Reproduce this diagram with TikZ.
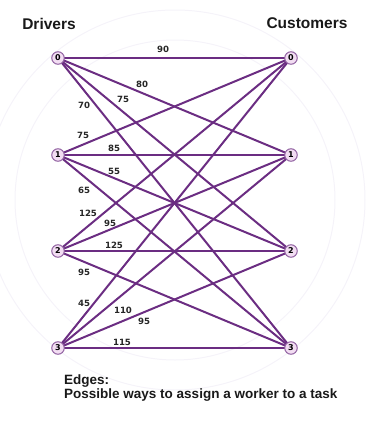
\documentclass[tikz,border=0pt]{standalone}
\usepackage{fontspec}
\setmainfont{Liberation Sans}
\newfontfamily\labfont{DejaVu Sans}
\definecolor{edgepurple}{HTML}{6B2D82}
\definecolor{nodefill}{HTML}{F2DDF2}
\definecolor{faint}{HTML}{F5F3F9}
\begin{document}
\begin{tikzpicture}[x=1pt,y=-1pt,
  vert/.style={circle,draw=edgepurple!75,line width=1pt,fill=nodefill,inner sep=0pt,minimum size=12.5pt,font=\labfont\bfseries\fontsize{8}{8}\selectfont},
  edge/.style={draw=edgepurple,line width=2pt},
  lab/.style={font=\labfont\bfseries\fontsize{8.6}{9}\selectfont,text=black!85,inner sep=0pt},
  title/.style={font=\bfseries\fontsize{15.5}{16}\selectfont,text=black!90,inner sep=0pt},
  note/.style={font=\bfseries\fontsize{13.5}{14}\selectfont,text=black!90,inner sep=0pt,anchor=west}]
\useasboundingbox (0,0) rectangle (368,421);
% faint background decoration
\draw[faint,line width=1pt] (175,200) circle (190);
\draw[faint,line width=1pt] (175,200) circle (160);
% node positions
\foreach \i/\y in {0/58,1/155,2/251,3/348}{
  \coordinate (lc\i) at (58,\y);
  \coordinate (rc\i) at (291,\y);
}
% edges
\foreach \i in {0,1,2,3}{
  \foreach \j in {0,1,2,3}{
    \draw[edge] (lc\i) -- (rc\j);
  }
}
\foreach \i/\y in {0/58,1/155,2/251,3/348}{
  \node[vert] (l\i) at (58,\y) {\i};
  \node[vert] (r\i) at (291,\y) {\i};
}
% labels
\node[lab] (a00) at (163,49) {90};
\node[lab] (a01) at (142,84) {80};
\node[lab] (a02) at (123,99) {75};
\node[lab] (a03) at (84,105) {70};
\node[lab] (a10) at (83,135) {75};
\node[lab] (a11) at (114,148) {85};
\node[lab] (a12) at (114,171) {55};
\node[lab] (a13) at (84,190) {65};
\node[lab] (a20) at (88,213) {125};
\node[lab] (a21) at (110,223) {95};
\node[lab] (a22) at (114,245) {125};
\node[lab] (a23) at (84,272) {95};
\node[lab] (a30) at (84,303) {45};
\node[lab] (a31) at (123,310) {110};
\node[lab] (a32) at (144,321) {95};
\node[lab] (a33) at (122,342) {115};
% titles
\node[title] (t1) at (49,24) {Drivers};
\node[title] (t2) at (307,23) {Customers};
\node[note] (e1) at (64,381) {Edges:};
\node[note] (e2) at (64,395) {Possible ways to assign a worker to a task};
\end{tikzpicture}
\end{document}
